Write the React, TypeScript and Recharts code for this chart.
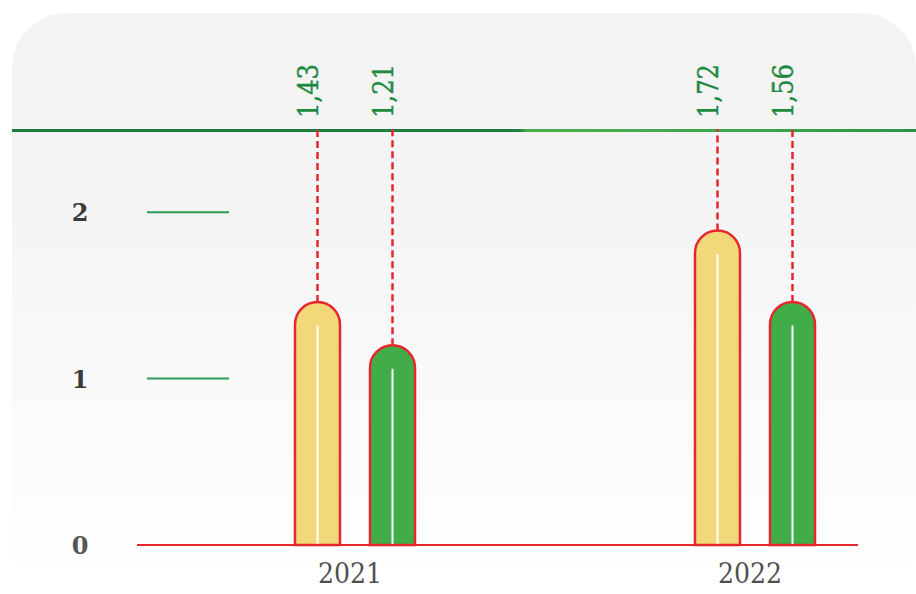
import React from 'react';
import { BarChart, Bar, XAxis, YAxis, LabelList } from 'recharts';

// category positions on the x axis (one per year)
const years = ['2021', '2022'];
const yearIndex = [0, 1];

// bar heights as drawn
const yellowValues = [1.46, 1.89];
const greenValues = [1.2, 1.46];

// printed labels above the bars
const yellowLabels = ['1,43', '1,72'];
const greenLabels = ['1,21', '1,56'];

const yTicks = [0, 1, 2];
const yMax = 2.5;

const data = yearIndex.map((idx, i) => ({
  idx,
  year: years[i],
  yellow: yellowValues[i],
  green: greenValues[i],
  yellowLabel: yellowLabels[i],
  greenLabel: greenLabels[i],
}));

const W = 916;
const H = 594;
const PLOT_TOP = 129;
const RED = '#e8262d';
const LABEL_FONT = '"DejaVu Serif Condensed", "DejaVu Serif", serif';

const PillBar = (props: any) => {
  const { x, y, width, height, fill } = props;
  if (height == null || width == null) return null;
  const r = width / 2;
  const bottom = y + height;
  const path = `M${x},${bottom} L${x},${y + r} A${r},${r} 0 0 1 ${x + width},${y + r} L${x + width},${bottom} Z`;
  const cx = x + width / 2;
  return (
    <g>
      <line x1={cx} y1={y} x2={cx} y2={PLOT_TOP} stroke={RED} strokeWidth={2.5} strokeDasharray="7 4" />
      <path d={path} fill={fill} stroke={RED} strokeWidth={2.5} />
      <line x1={cx} y1={y + r + 1} x2={cx} y2={bottom - 1} stroke="#ffffff" strokeWidth={2} />
    </g>
  );
};

const TopLabel = (props: any) => {
  const { x, width, value } = props;
  const cx = x + width / 2;
  const ty = PLOT_TOP - 11;
  return (
    <text
      x={cx}
      y={ty}
      transform={`rotate(-90 ${cx} ${ty})`}
      textAnchor="start"
      fill="#1e8a3e"
      stroke="#1e8a3e"
      strokeWidth={0.4}
      fontFamily={LABEL_FONT}
      fontSize={27}
    >
      {value}
    </text>
  );
};

const YTick = (props: any) => {
  const { y, payload } = props;
  const v = payload.value;
  return (
    <g>
      <text
        x={80}
        y={y}
        dy={9}
        textAnchor="middle"
        fill={v === 0 ? '#555555' : '#3b3b3b'}
        fontFamily='"DejaVu Serif", serif'
        fontWeight="bold"
        fontSize={24}
      >
        {v}
      </text>
      {v > 0 && <line x1={147} y1={y} x2={229} y2={y} stroke="#2e9a55" strokeWidth={2} />}
    </g>
  );
};

const XTick = (props: any) => {
  const { x, y, payload } = props;
  const i = yearIndex.indexOf(payload.value);
  return (
    <text x={x} y={y} dy={38} dx={-5} textAnchor="middle" fill="#505050" fontFamily={LABEL_FONT} fontSize={28}>
      {years[i]}
    </text>
  );
};

export default function App() {
  return (
    <div style={{ position: 'fixed', left: 0, top: 0, width: W, height: H, overflow: 'hidden', background: '#ffffff' }}>
      <div
        style={{
          position: 'absolute',
          left: 12,
          top: 13,
          width: 904,
          height: 700,
          borderRadius: 55,
          background: 'linear-gradient(to bottom, #f3f3f3 0%, #f5f5f5 30%, #fbfbfb 60%, #ffffff 82%)',
        }}
      />
      <div
        style={{
          position: 'absolute',
          left: 12,
          top: 129,
          width: 904,
          height: 3,
          background: 'linear-gradient(to right, #1d7d3e 0%, #1d7d3e 56%, #4cae4c 57%, #3aa44a 85%, #2a9446 100%)',
        }}
      />
      <div style={{ position: 'absolute', left: 0, top: 0 }}>
        <BarChart
          width={W}
          height={H}
          data={data}
          margin={{ top: PLOT_TOP, right: 58, bottom: 19, left: 37 }}
          barSize={45}
          barGap={30}
        >
          <XAxis
            dataKey="idx"
            type="number"
            domain={[-0.545, 1.2575]}
            ticks={yearIndex}
            allowDataOverflow
            height={30}
            axisLine={{ stroke: RED, strokeWidth: 2 }}
            tickLine={false}
            tickSize={0}
            tickMargin={0}
            tick={<XTick />}
            interval={0}
          />
          <YAxis
            type="number"
            domain={[0, yMax]}
            ticks={yTicks}
            width={100}
            axisLine={false}
            tickLine={false}
            tick={<YTick />}
            interval={0}
          />
          <Bar dataKey="yellow" fill="#f2d878" shape={<PillBar />} isAnimationActive={false}>
            <LabelList dataKey="yellowLabel" content={<TopLabel />} />
          </Bar>
          <Bar dataKey="green" fill="#41ad49" shape={<PillBar />} isAnimationActive={false}>
            <LabelList dataKey="greenLabel" content={<TopLabel />} />
          </Bar>
        </BarChart>
      </div>
    </div>
  );
}
